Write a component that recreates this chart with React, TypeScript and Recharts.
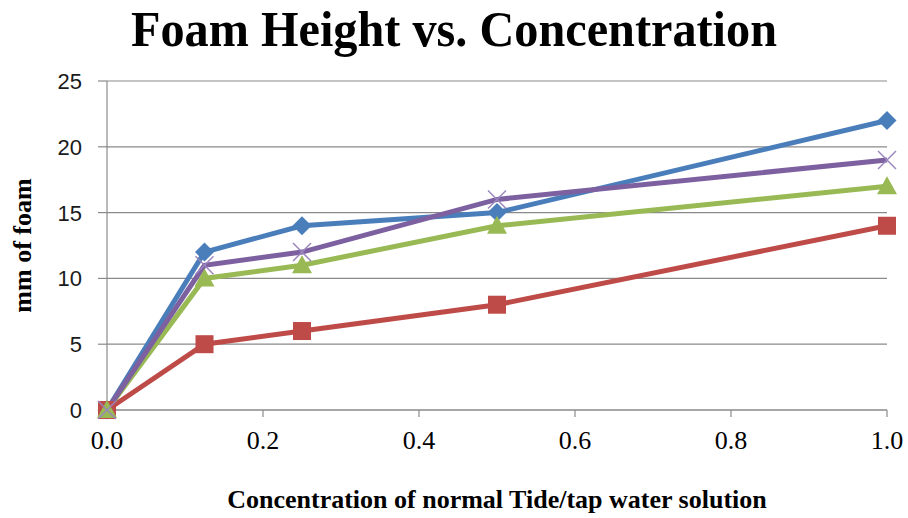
import React from "react";
import { LineChart, Line, XAxis, YAxis, CartesianGrid, Label } from "recharts";

const concentration = [0, 0.125, 0.25, 0.5, 1.0];
const seriesA = [0, 12, 14, 15, 22];
const seriesB = [0, 5, 6, 8, 14];
const seriesC = [0, 10, 11, 14, 17];
const seriesD = [0, 11, 12, 16, 19];
const xTicks = [0, 0.2, 0.4, 0.6, 0.8, 1.0];
const yTicks = [0, 5, 10, 15, 20, 25];

const rows = concentration.map((c, i) => ({
  c,
  a: seriesA[i],
  b: seriesB[i],
  d: seriesC[i],
  e: seriesD[i],
}));

const BLUE = "#4A7EBB";
const RED = "#BE4B48";
const GREEN = "#98B954";
const PURPLE = "#7D60A0";

const serif = "'Liberation Serif', 'Times New Roman', serif";
const sans = "'Liberation Sans', Arial, sans-serif";

const Diamond = (p: any) => {
  const { cx, cy } = p;
  if (cx == null || cy == null) return null;
  const r = 9.5;
  return <polygon key={p.key} points={`${cx},${cy - r} ${cx + r},${cy} ${cx},${cy + r} ${cx - r},${cy}`} fill={BLUE} />;
};
const Square = (p: any) => {
  const { cx, cy } = p;
  if (cx == null || cy == null) return null;
  const s = 18;
  return <rect key={p.key} x={cx - s / 2} y={cy - s / 2} width={s} height={s} fill={RED} />;
};
const Triangle = (p: any) => {
  const { cx, cy } = p;
  if (cx == null || cy == null) return null;
  const r = 10;
  return <polygon key={p.key} points={`${cx},${cy - r} ${cx + r},${cy + r * 0.8} ${cx - r},${cy + r * 0.8}`} fill={GREEN} />;
};
const Cross = (p: any) => {
  const { cx, cy } = p;
  if (cx == null || cy == null) return null;
  const r = 9;
  return (
    <g key={p.key} stroke="#9A86BC" strokeWidth={1.5}>
      <line x1={cx - r} y1={cy - r} x2={cx + r} y2={cy + r} />
      <line x1={cx - r} y1={cy + r} x2={cx + r} y2={cy - r} />
    </g>
  );
};

const XTick = (p: any) => (
  <text x={p.x} y={p.y} dy={30} textAnchor="middle" fontFamily={serif} fontSize={26} fill="#000">
    {Number(p.payload.value).toFixed(1)}
  </text>
);

const YTick = (p: any) => (
  <text x={p.x} y={p.y} dy={8} textAnchor="end" fontFamily={sans} fontSize={22} fill="#1a1a1a">
    {p.payload.value}
  </text>
);

export default function App() {
  return (
    <div style={{ position: "absolute", left: 0, top: 0, width: 908, height: 518, background: "#fff" }}>
      <div
        style={{
          position: "absolute",
          left: 0,
          top: 0,
          width: 908,
          textAlign: "center",
          fontFamily: serif,
          fontWeight: "bold",
          fontSize: 50,
          color: "#000",
          transform: "scaleX(0.965)",
          whiteSpace: "nowrap",
        }}
      >
        Foam Height vs. Concentration
      </div>
      <LineChart width={908} height={518} data={rows} margin={{ top: 81, right: 21, bottom: 0, left: 0 }}>
        <CartesianGrid vertical={false} stroke="#8a8a8a" strokeWidth={1.2} />
        <XAxis
          dataKey="c"
          type="number"
          domain={[0, 1]}
          ticks={xTicks}
          stroke="#8a8a8a"
          strokeWidth={1.2}
          tickSize={7}
          tick={XTick}
          height={108}
        >
          <Label
            value="Concentration of normal Tide/tap water solution"
            position="insideBottom"
            offset={10}
            style={{ fontFamily: serif, fontWeight: "bold", fontSize: 26, fill: "#000" }}
          />
        </XAxis>
        <YAxis
          domain={[0, 25]}
          ticks={yTicks}
          stroke="#8a8a8a"
          strokeWidth={1.2}
          tickSize={9}
          tickMargin={16}
          tick={YTick}
          width={107}
        >
          <Label
            value="mm of foam"
            angle={-90}
            position="insideLeft"
            offset={22}
            style={{ fontFamily: serif, fontWeight: "bold", fontSize: 26, fill: "#000", textAnchor: "middle" }}
          />
        </YAxis>
        <Line dataKey="a" stroke={BLUE} strokeWidth={5} dot={Diamond} isAnimationActive={false} />
        <Line dataKey="b" stroke={RED} strokeWidth={5} dot={Square} isAnimationActive={false} />
        <Line dataKey="d" stroke={GREEN} strokeWidth={5} dot={Triangle} isAnimationActive={false} />
        <Line dataKey="e" stroke={PURPLE} strokeWidth={5} dot={Cross} isAnimationActive={false} />
      </LineChart>
    </div>
  );
}
